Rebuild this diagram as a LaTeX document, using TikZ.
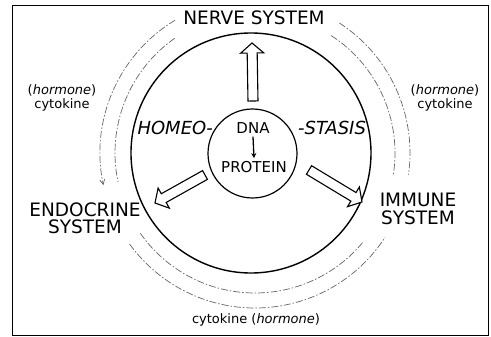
\documentclass[tikz,border=0pt]{standalone}
\usepackage{fontspec}
\setmainfont{DejaVu Sans}
\usetikzlibrary{calc,arrows.meta}
\tikzset{
  lbl/.style={inner sep=0pt, align=center},
  bigtxt/.style={font=\fontsize{18.5}{17.5}\selectfont},
  homeotxt/.style={font=\fontsize{18}{17.5}\selectfont},
  midtxt/.style={font=\fontsize{15}{16}\selectfont},
  smalltxt/.style={font=\fontsize{13}{14.5}\selectfont},
  ring/.style={circle, draw, inner sep=0pt},
  blockarr/.style={draw, line width=1.1pt, fill=white, line join=miter},
  flow/.style={line width=0.7pt, black!60, dash pattern=on 7pt off 2pt on 1.5pt off 2pt},
}
\newcommand\blockarrow[3]{%
  \coordinate (#3h) at ($(#2)!10pt!(#1)$);
  \draw[blockarr] ($(#1)!5pt!90:(#2)$) -- ($(#3h)!5pt!-90:(#1)$) -- ($(#3h)!11.5pt!-90:(#1)$) -- (#2)
     -- ($(#3h)!11.5pt!90:(#1)$) -- ($(#3h)!5pt!90:(#1)$) -- ($(#1)!5pt!-90:(#2)$) -- cycle;
}
\begin{document}
\begin{tikzpicture}[x=1pt,y=-1pt]
\useasboundingbox (0,0) rectangle (491,337);
\fill[white] (0,0) rectangle (491,337);
\draw[line width=0.9pt] (12,5) rectangle (488,335);

% circles
\node[ring, line width=1.4pt, minimum size=240pt] (big) at (251,153) {};
\node[ring, line width=1.2pt, minimum size=89pt] (core) at (252.5,153.5) {};

% dashed flows
\coordinate (ac) at (255,153);
\draw[flow, -{Straight Barb[length=5pt,width=5pt]}] ([shift={(ac)}]121:155pt) arc[start angle=121, end angle=192, radius=155pt];
\draw[flow] ([shift={(ac)}]125:140pt) arc[start angle=125, end angle=192, radius=140pt];
\draw[flow] ([shift={(ac)}]57:155pt) arc[start angle=57, end angle=-8, radius=155pt];
\draw[flow] ([shift={(ac)}]57:140pt) arc[start angle=57, end angle=-9, radius=140pt];
\draw[flow] ([shift={(ac)}]216:155pt) arc[start angle=216, end angle=327, radius=155pt];
\draw[flow] ([shift={(ac)}]215:140pt) arc[start angle=215, end angle=321, radius=140pt];

% block arrows
\coordinate (upT) at (253,101);
\coordinate (upH) at (252,43);
\coordinate (lfT) at (205,175);
\coordinate (lfH) at (155,203);
\coordinate (rtT) at (309,170);
\coordinate (rtH) at (362,202);
\blockarrow{upT}{upH}{up}
\blockarrow{lfT}{lfH}{lf}
\blockarrow{rtT}{rtH}{rt}

% labels
\node[lbl, bigtxt] (nerve) at (254,18) {NERVE SYSTEM};
\node[lbl, bigtxt] (endo) at (85,218.5) {ENDOCRINE\\SYSTEM};
\node[lbl, bigtxt] (imm) at (418,209) {IMMUNE\\SYSTEM};
\node[lbl, homeotxt, anchor=east] (homeo) at (213,128) {\itshape HOMEO-};
\node[lbl, homeotxt, anchor=west] (stasis) at (298,128) {\itshape -STASIS};
\node[lbl, midtxt] (dna) at (253,128) {DNA};
\node[lbl, midtxt] (prot) at (254,167) {PROTEIN};
\draw[line width=1.3pt, -{Stealth[length=5pt,width=5pt]}] ($(dna.south)+(0,3)$) -- ($(prot.north)+(0,-3)$);
\node[lbl, smalltxt] (cytL) at (62,98) {(\textit{hormone})\\cytokine};
\node[lbl, smalltxt] (cytR) at (445,98) {(\textit{hormone})\\cytokine};
\node[lbl, smalltxt] (cytB) at (256,320) {cytokine (\textit{hormone})};
\end{tikzpicture}
\end{document}
